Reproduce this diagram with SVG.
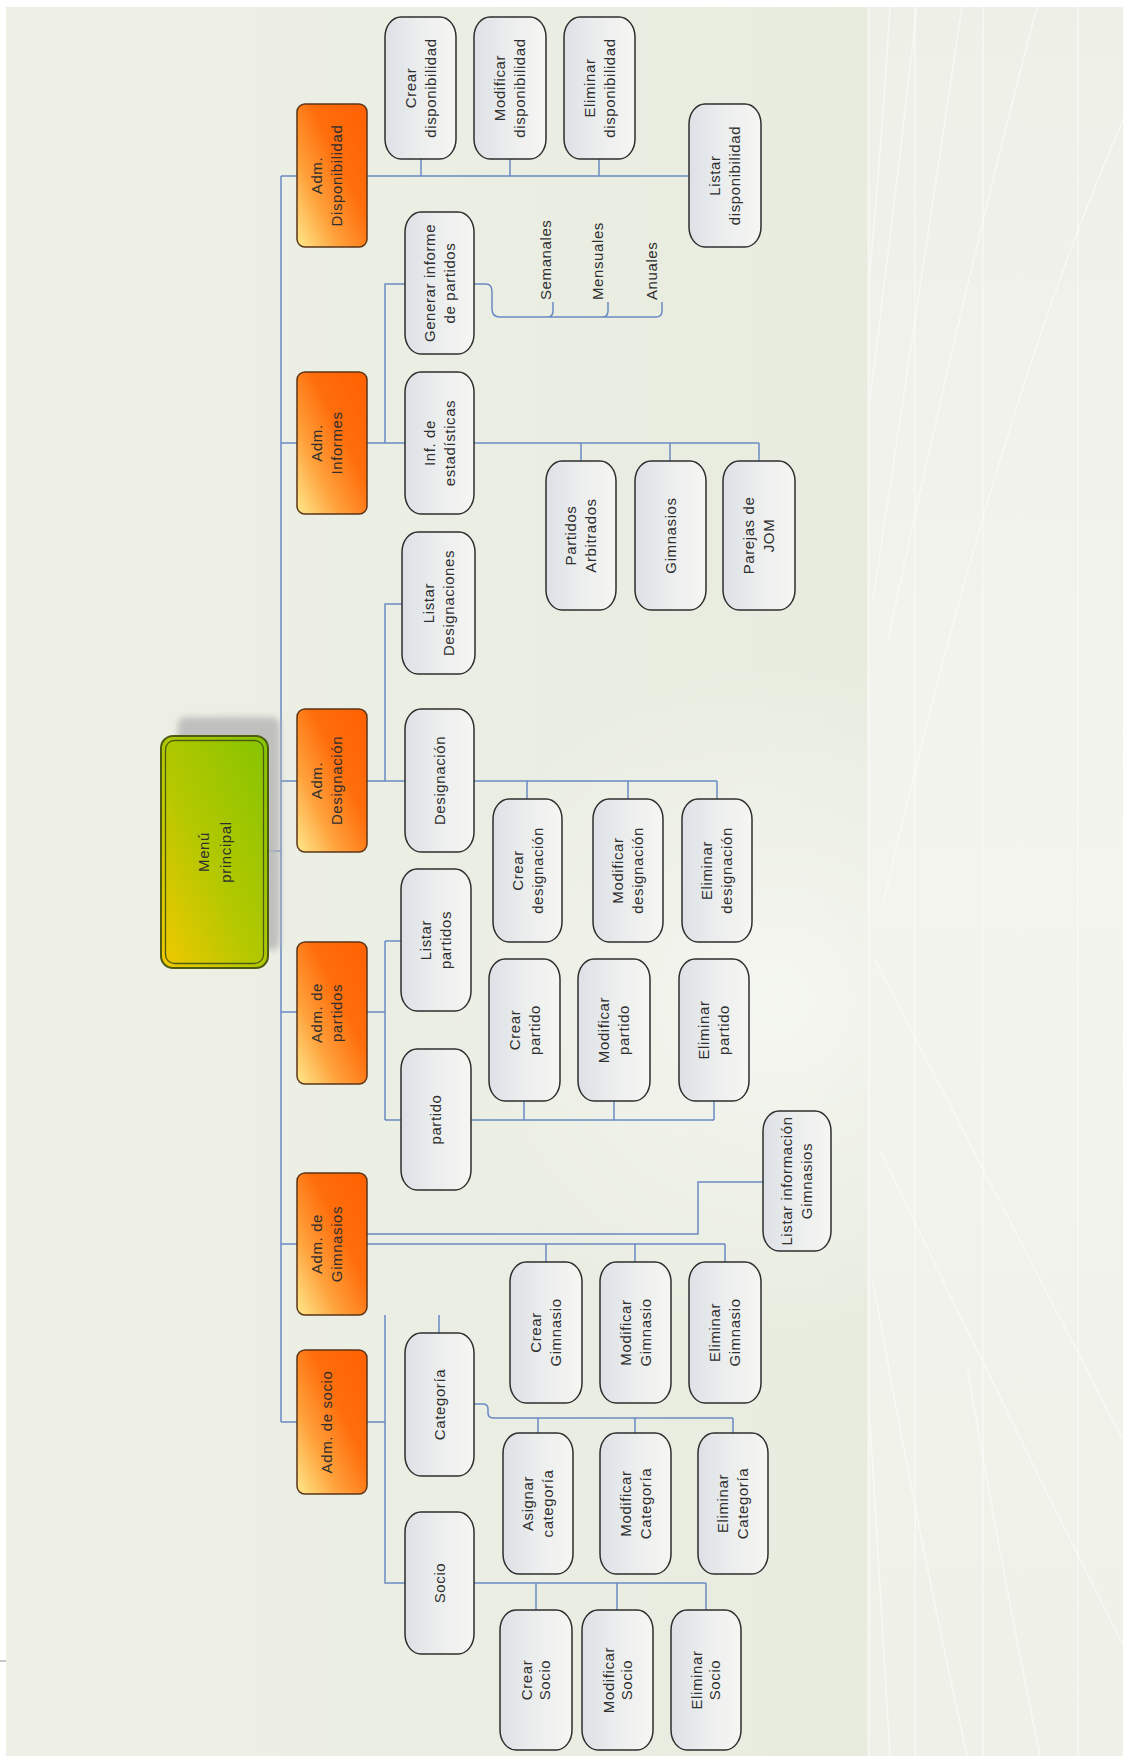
<svg xmlns="http://www.w3.org/2000/svg" width="1123" height="1756" viewBox="0 0 1123 1756">
<defs>
<style>
.box{fill:url(#gBox);stroke:#2e2e2e;stroke-width:1.5}
.org{fill:url(#gOrg);stroke:#5a3418;stroke-width:1.5}
.t{font-family:"Liberation Sans",Arial,sans-serif;font-size:15px;fill:#2f2f2f;letter-spacing:0.6px;text-anchor:middle}
.ts{font-family:"Liberation Sans",Arial,sans-serif;font-size:15px;fill:#2f2f2f;letter-spacing:0.6px;text-anchor:start}
.c{fill:none;stroke:#6a8ac4;stroke-width:1.5}
.deco{fill:none;stroke:#ffffff;stroke-width:1.4;opacity:0.55}
</style>
<linearGradient id="gBox" x1="0" y1="0" x2="1" y2="0">
<stop offset="0" stop-color="#dde1e6"/><stop offset="0.5" stop-color="#eceeee"/><stop offset="1" stop-color="#f6f6f2"/>
</linearGradient>
<linearGradient id="gOrg" x1="0" y1="1" x2="1" y2="0">
<stop offset="0" stop-color="#ffe98c"/><stop offset="0.3" stop-color="#ffa23c"/><stop offset="0.6" stop-color="#ff6e0c"/><stop offset="1" stop-color="#ff6000"/>
</linearGradient>
<linearGradient id="gGreen" x1="0" y1="1" x2="1" y2="0">
<stop offset="0" stop-color="#f2c800"/><stop offset="0.45" stop-color="#b4c800"/><stop offset="1" stop-color="#84c400"/>
</linearGradient>
<linearGradient id="gBg" x1="0" y1="0" x2="1" y2="0">
<stop offset="0" stop-color="#eef0e6"/><stop offset="1" stop-color="#e8ecdf"/>
</linearGradient>
<radialGradient id="gGlow" cx="780" cy="1000" r="340" gradientUnits="userSpaceOnUse">
<stop offset="0" stop-color="#ffffff" stop-opacity="0.55"/><stop offset="1" stop-color="#ffffff" stop-opacity="0"/>
</radialGradient>
<linearGradient id="gRight" x1="0" y1="0" x2="0" y2="1">
<stop offset="0" stop-color="#eef0e8"/><stop offset="0.5" stop-color="#f3f4ee"/><stop offset="1" stop-color="#eff1e8"/>
</linearGradient>
<filter id="blur" x="-20%" y="-20%" width="140%" height="140%"><feGaussianBlur stdDeviation="3"/></filter>
</defs>

<g id="background">
<rect x="0" y="0" width="1123" height="1756" fill="#ffffff"/>
<rect x="6" y="7" width="862" height="1749" fill="url(#gBg)"/>
<rect x="6" y="7" width="862" height="1749" fill="url(#gGlow)"/>
<rect x="867" y="7" width="256" height="1749" fill="url(#gRight)"/>
<rect x="0" y="1660" width="6" height="2" fill="#c8c8c8"/>
<line class="deco" x1="869" y1="7" x2="869" y2="1756"/>
<line class="deco" x1="915" y1="7" x2="915" y2="1756" opacity="0.4"/>
<line class="deco" x1="983" y1="7" x2="983" y2="1756" opacity="0.4"/>
<line class="deco" x1="1078" y1="7" x2="1078" y2="1756" opacity="0.4"/>
<path class="deco" d="M890,7 Q882,140 870,270"/>
<path class="deco" d="M917,7 Q895,200 870,400"/>
<path class="deco" d="M962,7 Q918,300 873,600"/>
<path class="deco" d="M1037,7 Q960,300 888,640"/>
<path class="deco" d="M1123,120 Q1000,400 884,900"/>
<path class="deco" d="M870,1420 Q880,1600 890,1756"/>
<path class="deco" d="M873,1281 Q915,1520 967,1756"/>
<path class="deco" d="M880,1150 Q1000,1400 1123,1645"/>
<path class="deco" d="M967,1366 Q1000,1560 1040,1756"/>
<path class="deco" d="M875,960 Q1000,1200 1123,1440"/>
</g>

<g id="connectors">
<path class="c" d="M281,176 V1422" stroke-width="2"/>
<path class="c" d="M268,851 H281"/>
<path class="c" d="M281,176 H297 M281,443 H297 M281,781 H297 M281,1012 H297 M281,1244 H297 M281,1422 H297"/>
<path class="c" d="M367,176 H689 M421,159 V176 M510,159 V176 M599,159 V176"/>
<path class="c" d="M367,443 H405 M385,443 V284 H405 M474,443 H759 M581,443 V461 M670,443 V461 M759,443 V461"/>
<path class="c" d="M474,284 H486 Q492,284 492,292 V309 Q492,317 500,317 H656 Q662,317 662,311 V302 M547,317 Q553,317 553,311 V302 M602,317 Q608,317 608,311 V302"/>
<path class="c" d="M367,781 H405 M385,781 V604 H402 M474,781 H717 M527,781 V799 M628,781 V799 M717,781 V799"/>
<path class="c" d="M367,1012 H385 M385,941 V1120 M385,941 H401 M385,1120 H401 M471,1120 H714 M524,1120 V1101 M614,1120 V1101 M714,1120 V1101"/>
<path class="c" d="M367,1234 H698 V1182 H763 M367,1244 H725 M546,1244 V1262 M635,1244 V1262 M725,1244 V1262"/>
<path class="c" d="M367,1422 H385 M385,1315 V1583 H405 M439,1315 V1333"/>
<path class="c" d="M474,1404 H483 Q488,1404 488,1409 V1413 Q488,1418 494,1418 H733 M538,1418 V1433 M635,1418 V1433 M733,1418 V1433"/>
<path class="c" d="M474,1583 H706 M536,1583 V1610 M617,1583 V1610 M706,1583 V1610"/>
</g>

<g id="menu-principal">
<rect x="178" y="717" width="102" height="233" rx="8" fill="#b5b5b5" opacity="0.8" filter="url(#blur)"/>
<rect x="161" y="736" width="107" height="232" rx="12" fill="url(#gGreen)" stroke="#4d5c12" stroke-width="2"/>
<rect x="165.5" y="740.5" width="98" height="223" rx="9" fill="none" stroke="#4d5c12" stroke-width="1.3"/>
<text class="t" transform="translate(215,852) rotate(-90)"><tspan x="0" y="-6">Menú</tspan><tspan x="0" y="16">principal</tspan></text>
</g>

<g id="adm-disponibilidad">
<rect class="org" x="297" y="104" width="70" height="143" rx="8"/>
<text class="t" transform="translate(327,175.5) rotate(-90)"><tspan x="0" y="-5">Adm.</tspan><tspan x="0" y="15">Disponibilidad</tspan></text>
</g>
<g id="adm-informes">
<rect class="org" x="297" y="372" width="70" height="142" rx="8"/>
<text class="t" transform="translate(327,443) rotate(-90)"><tspan x="0" y="-5">Adm.</tspan><tspan x="0" y="15">Informes</tspan></text>
</g>
<g id="adm-designacion">
<rect class="org" x="297" y="709" width="70" height="143" rx="8"/>
<text class="t" transform="translate(327,780.5) rotate(-90)"><tspan x="0" y="-5">Adm.</tspan><tspan x="0" y="15">Designación</tspan></text>
</g>
<g id="adm-partidos">
<rect class="org" x="297" y="942" width="70" height="142" rx="8"/>
<text class="t" transform="translate(327,1013) rotate(-90)"><tspan x="0" y="-5">Adm. de</tspan><tspan x="0" y="15">partidos</tspan></text>
</g>
<g id="adm-gimnasios">
<rect class="org" x="297" y="1173" width="70" height="142" rx="8"/>
<text class="t" transform="translate(327,1244) rotate(-90)"><tspan x="0" y="-5">Adm. de</tspan><tspan x="0" y="15">Gimnasios</tspan></text>
</g>
<g id="adm-socio">
<rect class="org" x="297" y="1350" width="70" height="144" rx="8"/>
<text class="t" transform="translate(327,1422) rotate(-90)"><tspan x="0" y="5">Adm. de socio</tspan></text>
</g>

<g id="crear-disponibilidad">
<rect class="box" x="385" y="17" width="71" height="142" rx="16" ry="20"/>
<text class="t" transform="translate(420.5,88) rotate(-90)"><tspan x="0" y="-5">Crear</tspan><tspan x="0" y="15">disponibilidad</tspan></text>
</g>
<g id="modificar-disponibilidad">
<rect class="box" x="474" y="17" width="72" height="142" rx="16" ry="20"/>
<text class="t" transform="translate(510,88) rotate(-90)"><tspan x="0" y="-5">Modificar</tspan><tspan x="0" y="15">disponibilidad</tspan></text>
</g>
<g id="eliminar-disponibilidad">
<rect class="box" x="564" y="17" width="71" height="142" rx="16" ry="20"/>
<text class="t" transform="translate(599.5,88) rotate(-90)"><tspan x="0" y="-5">Eliminar</tspan><tspan x="0" y="15">disponibilidad</tspan></text>
</g>
<g id="listar-disponibilidad">
<rect class="box" x="689" y="104" width="72" height="143" rx="16" ry="20"/>
<text class="t" transform="translate(725,175.5) rotate(-90)"><tspan x="0" y="-5">Listar</tspan><tspan x="0" y="15">disponibilidad</tspan></text>
</g>

<g id="generar-informe">
<rect class="box" x="405" y="212" width="69" height="142" rx="16" ry="20"/>
<text class="t" transform="translate(439.5,283) rotate(-90)"><tspan x="0" y="-5">Generar informe</tspan><tspan x="0" y="15">de partidos</tspan></text>
</g>
<g id="semanales"><text class="ts" transform="translate(551,300) rotate(-90)" x="0" y="0">Semanales</text></g>
<g id="mensuales"><text class="ts" transform="translate(603,300) rotate(-90)" x="0" y="0">Mensuales</text></g>
<g id="anuales"><text class="ts" transform="translate(657,300) rotate(-90)" x="0" y="0">Anuales</text></g>

<g id="inf-estadisticas">
<rect class="box" x="405" y="372" width="69" height="142" rx="16" ry="20"/>
<text class="t" transform="translate(439.5,443) rotate(-90)"><tspan x="0" y="-5">Inf. de</tspan><tspan x="0" y="15">estadísticas</tspan></text>
</g>
<g id="partidos-arbitrados">
<rect class="box" x="546" y="461" width="70" height="149" rx="16" ry="20"/>
<text class="t" transform="translate(581,535.5) rotate(-90)"><tspan x="0" y="-5">Partidos</tspan><tspan x="0" y="15">Arbitrados</tspan></text>
</g>
<g id="gimnasios-inf">
<rect class="box" x="635" y="461" width="71" height="149" rx="16" ry="20"/>
<text class="t" transform="translate(670.5,535.5) rotate(-90)"><tspan x="0" y="5">Gimnasios</tspan></text>
</g>
<g id="parejas-jom">
<rect class="box" x="723" y="461" width="72" height="149" rx="16" ry="20"/>
<text class="t" transform="translate(759,535.5) rotate(-90)"><tspan x="0" y="-5">Parejas de</tspan><tspan x="0" y="15">JOM</tspan></text>
</g>

<g id="listar-designaciones">
<rect class="box" x="402" y="532" width="73" height="142" rx="16" ry="20"/>
<text class="t" transform="translate(438.5,603) rotate(-90)"><tspan x="0" y="-5">Listar</tspan><tspan x="0" y="15">Designaciones</tspan></text>
</g>
<g id="designacion">
<rect class="box" x="405" y="709" width="69" height="143" rx="16" ry="20"/>
<text class="t" transform="translate(439.5,780.5) rotate(-90)"><tspan x="0" y="5">Designación</tspan></text>
</g>
<g id="crear-designacion">
<rect class="box" x="493" y="799" width="69" height="143" rx="16" ry="20"/>
<text class="t" transform="translate(527.5,870.5) rotate(-90)"><tspan x="0" y="-5">Crear</tspan><tspan x="0" y="15">designación</tspan></text>
</g>
<g id="modificar-designacion">
<rect class="box" x="593" y="799" width="70" height="143" rx="16" ry="20"/>
<text class="t" transform="translate(628,870.5) rotate(-90)"><tspan x="0" y="-5">Modificar</tspan><tspan x="0" y="15">designación</tspan></text>
</g>
<g id="eliminar-designacion">
<rect class="box" x="682" y="799" width="70" height="143" rx="16" ry="20"/>
<text class="t" transform="translate(717,870.5) rotate(-90)"><tspan x="0" y="-5">Eliminar</tspan><tspan x="0" y="15">designación</tspan></text>
</g>

<g id="listar-partidos">
<rect class="box" x="401" y="869" width="70" height="142" rx="16" ry="20"/>
<text class="t" transform="translate(436,940) rotate(-90)"><tspan x="0" y="-5">Listar</tspan><tspan x="0" y="15">partidos</tspan></text>
</g>
<g id="partido">
<rect class="box" x="401" y="1049" width="70" height="141" rx="16" ry="20"/>
<text class="t" transform="translate(436,1119.5) rotate(-90)"><tspan x="0" y="5">partido</tspan></text>
</g>
<g id="crear-partido">
<rect class="box" x="489" y="959" width="71" height="142" rx="16" ry="20"/>
<text class="t" transform="translate(524.5,1030) rotate(-90)"><tspan x="0" y="-5">Crear</tspan><tspan x="0" y="15">partido</tspan></text>
</g>
<g id="modificar-partido">
<rect class="box" x="578" y="959" width="72" height="142" rx="16" ry="20"/>
<text class="t" transform="translate(614,1030) rotate(-90)"><tspan x="0" y="-5">Modificar</tspan><tspan x="0" y="15">partido</tspan></text>
</g>
<g id="eliminar-partido">
<rect class="box" x="679" y="959" width="70" height="142" rx="16" ry="20"/>
<text class="t" transform="translate(714,1030) rotate(-90)"><tspan x="0" y="-5">Eliminar</tspan><tspan x="0" y="15">partido</tspan></text>
</g>

<g id="listar-info-gimnasios">
<rect class="box" x="763" y="1111" width="68" height="140" rx="16" ry="20"/>
<text class="t" transform="translate(797,1181) rotate(-90)"><tspan x="0" y="-5">Listar información</tspan><tspan x="0" y="15">Gimnasios</tspan></text>
</g>
<g id="crear-gimnasio">
<rect class="box" x="510" y="1262" width="72" height="141" rx="16" ry="20"/>
<text class="t" transform="translate(546,1332.5) rotate(-90)"><tspan x="0" y="-5">Crear</tspan><tspan x="0" y="15">Gimnasio</tspan></text>
</g>
<g id="modificar-gimnasio">
<rect class="box" x="600" y="1262" width="71" height="141" rx="16" ry="20"/>
<text class="t" transform="translate(635.5,1332.5) rotate(-90)"><tspan x="0" y="-5">Modificar</tspan><tspan x="0" y="15">Gimnasio</tspan></text>
</g>
<g id="eliminar-gimnasio">
<rect class="box" x="689" y="1262" width="72" height="141" rx="16" ry="20"/>
<text class="t" transform="translate(725,1332.5) rotate(-90)"><tspan x="0" y="-5">Eliminar</tspan><tspan x="0" y="15">Gimnasio</tspan></text>
</g>

<g id="categoria">
<rect class="box" x="405" y="1333" width="69" height="143" rx="16" ry="20"/>
<text class="t" transform="translate(439.5,1404.5) rotate(-90)"><tspan x="0" y="5">Categoría</tspan></text>
</g>
<g id="asignar-categoria">
<rect class="box" x="503" y="1433" width="70" height="141" rx="16" ry="20"/>
<text class="t" transform="translate(538,1503.5) rotate(-90)"><tspan x="0" y="-5">Asignar</tspan><tspan x="0" y="15">categoría</tspan></text>
</g>
<g id="modificar-categoria">
<rect class="box" x="600" y="1433" width="71" height="141" rx="16" ry="20"/>
<text class="t" transform="translate(635.5,1503.5) rotate(-90)"><tspan x="0" y="-5">Modificar</tspan><tspan x="0" y="15">Categoría</tspan></text>
</g>
<g id="eliminar-categoria">
<rect class="box" x="698" y="1433" width="70" height="141" rx="16" ry="20"/>
<text class="t" transform="translate(733,1503.5) rotate(-90)"><tspan x="0" y="-5">Eliminar</tspan><tspan x="0" y="15">Categoría</tspan></text>
</g>

<g id="socio">
<rect class="box" x="405" y="1512" width="69" height="142" rx="16" ry="20"/>
<text class="t" transform="translate(439.5,1583) rotate(-90)"><tspan x="0" y="5">Socio</tspan></text>
</g>
<g id="crear-socio">
<rect class="box" x="500" y="1610" width="72" height="140" rx="16" ry="20"/>
<text class="t" transform="translate(536,1680) rotate(-90)"><tspan x="0" y="-4">Crear</tspan><tspan x="0" y="14">Socio</tspan></text>
</g>
<g id="modificar-socio">
<rect class="box" x="582" y="1610" width="71" height="140" rx="16" ry="20"/>
<text class="t" transform="translate(617.5,1680) rotate(-90)"><tspan x="0" y="-4">Modificar</tspan><tspan x="0" y="14">Socio</tspan></text>
</g>
<g id="eliminar-socio">
<rect class="box" x="671" y="1610" width="70" height="140" rx="16" ry="20"/>
<text class="t" transform="translate(706,1680) rotate(-90)"><tspan x="0" y="-4">Eliminar</tspan><tspan x="0" y="14">Socio</tspan></text>
</g>
</svg>
